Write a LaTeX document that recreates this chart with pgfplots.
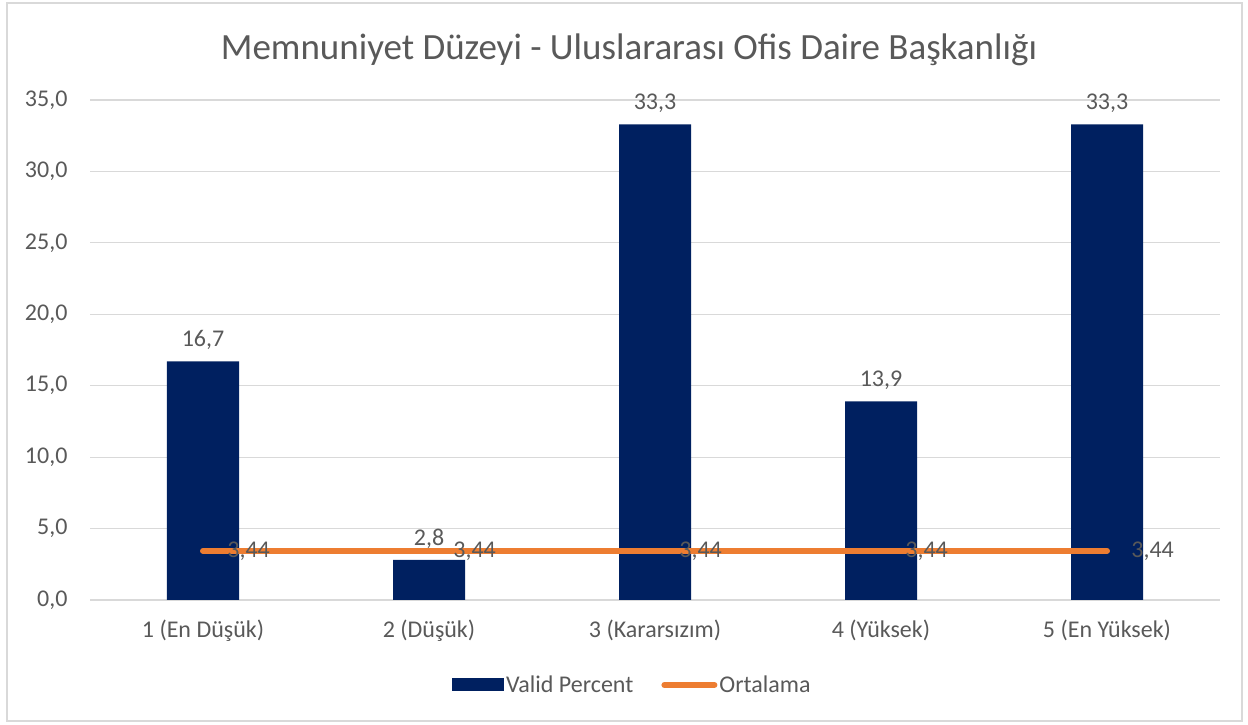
\documentclass[border=0pt]{standalone}
\usepackage{pgfplots}
\pgfplotsset{compat=1.18}
\usepackage{fontspec}
\setmainfont{Carlito}
\definecolor{navy}{HTML}{002060}
\definecolor{orng}{HTML}{ED7D31}
\definecolor{txt}{HTML}{595959}
\definecolor{grd}{HTML}{D9D9D9}
\begin{document}
\begin{tikzpicture}[x=1pt,y=1pt]
\path[use as bounding box] (0,0) rectangle (1248,725);
\draw[grd, line width=1.2pt] (7,4) rectangle (1242,722);
\node[txt, font=\fontsize{37}{44}\selectfont] at (629,675) {Memnuniyet Düzeyi - Uluslararası Ofis Daire Başkanlığı};
\begin{axis}[
  at={(90pt,125pt)}, anchor=south west,
  width=1130pt, height=500pt, scale only axis,
  xmin=-0.5, xmax=4.5, ymin=0, ymax=35,
  ytick={0,5,...,35}, xtick={0,1,2,3,4},
  xticklabels={1 (En Düşük),2 (Düşük),3 (Kararsızım),4 (Yüksek),5 (En Yüksek)},
  axis line style={draw=none},
  major tick length=0pt,
  ymajorgrids, grid style={grd, line width=1.2pt},
  clip=false,
  /pgf/number format/.cd, use comma, fixed, fixed zerofill, precision=1, assume math mode=true,
  /pgfplots/.cd,
  tick label style={txt, font=\fontsize{24}{28}\selectfont},
  yticklabel style={xshift=-19pt},
  xticklabel style={yshift=-16pt},
  legend style={at={(0.48,-0.17)}, anchor=center, draw=none, legend columns=2,
    font=\fontsize{24}{28}\selectfont, text=txt,
    /tikz/every even column/.append style={column sep=26pt}},
  legend cell align=left,
]
\addplot[ybar, fill=navy, draw=none, bar width=72pt,
  nodes near coords,
  every node near coord/.append style={txt, font=\fontsize{24}{28}\selectfont, yshift=8pt},
  legend image code/.code={\fill[navy] (0pt,-6.5pt) rectangle (52pt,6.5pt);}]
  coordinates {(0,16.7) (1,2.8) (2,33.3) (3,13.9) (4,33.3)};
\addlegendentry{Valid Percent}
\addplot[orng, line width=6pt, line cap=round, mark=none,
  nodes near coords={\pgfmathprintnumber[fixed,fixed zerofill,precision=2,use comma]{\pgfplotspointmeta}},
  every node near coord/.append style={txt, font=\fontsize{24}{28}\selectfont, anchor=west, xshift=18pt},
  legend image code/.code={\draw[orng, line width=6pt, line cap=round] (3pt,0pt) -- (53pt,0pt);}]
  coordinates {(0,3.44) (1,3.44) (2,3.44) (3,3.44) (4,3.44)};
\addlegendentry{Ortalama}
\end{axis}
\end{tikzpicture}
\end{document}
